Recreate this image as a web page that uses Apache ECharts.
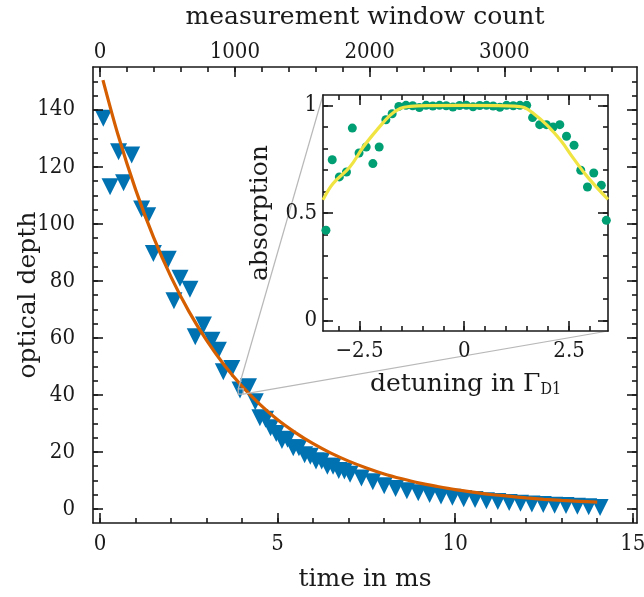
<!DOCTYPE html>
<html>
<head>
<meta charset="utf-8">
<script src="https://cdn.jsdelivr.net/npm/echarts@6/dist/echarts.min.js"></script>
<style>html,body{margin:0;padding:0;background:#fff}#chart{width:644px;height:597px}</style>
</head>
<body>
<div id="chart"></div>
<script>
// ---- main plot data (time in ms vs optical depth) ----
const timeMs = [0.09,0.28,0.52,0.66,0.89,1.17,1.34,1.50,1.92,2.08,2.25,2.53,2.68,2.91,3.15,3.33,3.47,3.71,3.94,4.18,4.37,
  4.50,4.66,4.80,4.96,5.12,5.28,5.44,5.60,5.76,5.92,6.08,6.24,6.40,6.56,6.72,6.88,7.04,7.36,7.68,
  8.00,8.32,8.64,8.96,9.28,9.60,9.92,10.24,10.56,10.88,11.20,11.52,11.84,12.16,12.48,12.80,13.12,13.44,13.76,14.08];
const opticalDepth = [137.0,113.0,125.3,114.4,124.1,105.2,102.8,89.6,87.6,73.0,80.9,77.1,60.4,64.5,59.2,55.7,48.1,49.3,41.7,42.9,37.6,
  32.0,31.5,28.5,26.5,24.0,24.5,21.5,21.5,19.0,18.5,16.8,16.8,15.0,15.0,13.5,13.3,12.2,10.9,9.6,
  8.2,7.2,6.4,5.7,5.1,4.6,4.1,3.6,3.3,2.9,2.6,2.3,2.0,1.8,1.6,1.3,1.2,1.0,0.8,0.5];
const fitTimeMs = [0.08,0.5,1,1.5,2,2.5,3,3.5,4,4.5,5,5.5,6,6.5,7,7.5,8,8.5,9,9.5,10,10.5,11,11.5,12,12.5,13,13.5,14];
const fitOpticalDepth = [150.4,131.4,112.0,95.4,81.3,69.3,59.1,50.4,43.0,36.7,31.3,26.8,22.9,19.6,16.8,14.4,12.3,10.6,9.1,7.9,6.8,5.9,5.1,4.5,3.9,3.4,3.0,2.7,2.4];
const timeTicks = [0,5,10,15];
const timeMinorTicks = [0,1,2,3,4,5,6,7,8,9,10,11,12,13,14,15];
const countTicks = [0,1000,2000,3000];
const countMinorTicks = [0,200,400,600,800,1000,1200,1400,1600,1800,2000,2200,2400,2600,2800,3000,3200,3400,3600,3800];
const odTicks = [0,20,40,60,80,100,120,140];
const odMinorTicks = [0,5,10,15,20,25,30,35,40,45,50,55,60,65,70,75,80,85,90,95,100,105,110,115,120,125,130,135,140,145,150];
const zoomRegionTime = [3.89,4.03];
const zoomRegionOD = [40.3,42.1];

// ---- inset data (detuning vs absorption) ----
const detuning = [-3.30,-3.15,-2.98,-2.81,-2.67,-2.51,-2.34,-2.18,-2.03,-1.87,-1.72,-1.56,-1.39,-1.23,-1.07,-0.91,-0.75,-0.59,-0.43,-0.27,-0.11,0.05,0.21,0.37,0.53,0.69,0.85,1.01,1.17,1.33,1.49,1.63,1.80,1.96,2.12,2.28,2.44,2.62,2.78,2.94,3.09,3.27,3.39];
const absorption = [0.419,0.747,0.667,0.690,0.894,0.778,0.806,0.729,0.806,0.933,0.961,0.995,1.0,0.998,0.99,1.0,0.997,1.0,0.998,0.992,0.999,1.0,0.993,0.999,1.0,0.997,0.991,1.0,0.998,1.0,1.0,0.943,0.910,0.910,0.899,0.910,0.856,0.814,0.698,0.620,0.685,0.628,0.465];
const fitDetuning = [-3.37,-3.13,-2.73,-2.41,-2.09,-1.77,-1.53,-1.29,-0.8,0,0.8,1.2,1.43,1.66,1.98,2.30,2.61,2.94,3.43];
const fitAbsorption = [0.56,0.636,0.713,0.806,0.884,0.953,0.985,0.995,0.999,1.0,0.999,0.996,0.99,0.961,0.907,0.837,0.752,0.667,0.562];
const detTicks = [-2.5,0,2.5];
const detMinorTicks = [-3,-2.5,-2,-1.5,-1,-0.5,0,0.5,1,1.5,2,2.5,3];
const absTicks = [0,0.5,1];
const absMinorTicks = [0,0.1,0.2,0.3,0.4,0.5,0.6,0.7,0.8,0.9,1.0];

const TICKFONT = "'DejaVu Serif Condensed','DejaVu Serif',serif";
const NAMEFONT = "'DejaVu Serif',serif";
const INK = '#1a1a1a';
const LW = 1.6;

function ax(o) {
  const major = o.major !== false;
  return {
    type: 'value', gridIndex: o.grid, position: o.pos, min: o.min, max: o.max,
    axisLine: { show: major, onZero: false, lineStyle: { color: INK, width: LW } },
    axisTick: { show: true, inside: true, length: major ? 10 : 5, customValues: o.ticks, lineStyle: { color: INK, width: LW } },
    axisLabel: o.labels ? { show: true, customValues: o.ticks, margin: o.margin, fontFamily: TICKFONT, fontSize: 22, color: INK, formatter: o.fmt || (v => String(v)) } : { show: false },
    splitLine: { show: false },
    name: o.name || '', nameLocation: 'middle', nameGap: o.nameGap || 0, nameMoveOverlap: false,
    nameTextStyle: Object.assign({ fontFamily: NAMEFONT, fontSize: 25, color: INK }, o.nameStyle || {}),
    z: 5
  };
}
const fmtMinus = v => String(v).replace('-', '\u2212');

const main = { left: 93, top: 67, right: 7, bottom: 74 };
const inset = { left: 323, top: 95, width: 285, height: 236 };
const xMin = -0.2, xMax = 15.12, cMin = -53, cMax = 3985, yMin = -4.9, yMax = 155;
const dMin = -3.37, dMax = 3.43, aMin = -0.05, aMax = 1.048;

const chart = echarts.init(document.getElementById('chart'), null, { renderer: 'canvas' });
chart.setOption({
  animation: false,
  backgroundColor: '#fff',
  grid: [
    Object.assign({ show: false, containLabel: false, outerBoundsMode: 'none' }, main),
    Object.assign({ show: true, backgroundColor: '#fff', borderWidth: 0, containLabel: false, outerBoundsMode: 'none' }, inset)
  ],
  xAxis: [
    ax({ grid: 0, pos: 'bottom', min: xMin, max: xMax, ticks: timeTicks, labels: true, margin: 10, name: 'time in ms', nameGap: 44 }),
    ax({ grid: 0, pos: 'bottom', min: xMin, max: xMax, ticks: timeMinorTicks, major: false }),
    ax({ grid: 0, pos: 'top', min: cMin, max: cMax, ticks: countTicks, labels: true, margin: 4, name: 'measurement window count', nameGap: 37 }),
    ax({ grid: 0, pos: 'top', min: cMin, max: cMax, ticks: countMinorTicks, major: false }),
    ax({ grid: 1, pos: 'bottom', min: dMin, max: dMax, ticks: detTicks, labels: true, margin: 9, fmt: fmtMinus,
         name: 'detuning in \u0393{sub|D1}', nameGap: 40,
         nameStyle: { rich: { sub: { fontFamily: TICKFONT, fontSize: 16, color: INK, padding: [11, 0, 0, 0], verticalAlign: 'top' } } } }),
    ax({ grid: 1, pos: 'bottom', min: dMin, max: dMax, ticks: detMinorTicks, major: false }),
    ax({ grid: 1, pos: 'top', min: dMin, max: dMax, ticks: detTicks }),
    ax({ grid: 1, pos: 'top', min: dMin, max: dMax, ticks: detMinorTicks, major: false })
  ],
  yAxis: [
    ax({ grid: 0, pos: 'left', min: yMin, max: yMax, ticks: odTicks, labels: true, margin: 18, name: 'optical depth', nameGap: 52 }),
    ax({ grid: 0, pos: 'left', min: yMin, max: yMax, ticks: odMinorTicks, major: false }),
    ax({ grid: 0, pos: 'right', min: yMin, max: yMax, ticks: odTicks }),
    ax({ grid: 0, pos: 'right', min: yMin, max: yMax, ticks: odMinorTicks, major: false }),
    ax({ grid: 1, pos: 'left', min: aMin, max: aMax, ticks: absTicks, labels: true, margin: 6, name: 'absorption', nameGap: 50 }),
    ax({ grid: 1, pos: 'left', min: aMin, max: aMax, ticks: absMinorTicks, major: false }),
    ax({ grid: 1, pos: 'right', min: aMin, max: aMax, ticks: absTicks }),
    ax({ grid: 1, pos: 'right', min: aMin, max: aMax, ticks: absMinorTicks, major: false })
  ],
  series: [
    { type: 'scatter', xAxisIndex: 0, yAxisIndex: 0, symbol: 'triangle', symbolRotate: 180, symbolSize: 17,
      itemStyle: { color: '#0072B2', opacity: 1 }, data: timeMs.map((t, i) => [t, opticalDepth[i]]), z: 2 },
    { type: 'line', xAxisIndex: 0, yAxisIndex: 0, showSymbol: false, smooth: 0.3,
      lineStyle: { color: '#D55E00', width: 3.2 }, data: fitTimeMs.map((t, i) => [t, fitOpticalDepth[i]]), z: 3 },
    { type: 'scatter', xAxisIndex: 4, yAxisIndex: 4, symbol: 'circle', symbolSize: 9, clip: true,
      itemStyle: { color: '#009E73', opacity: 1 }, data: detuning.map((d, i) => [d, absorption[i]]), z: 6 },
    { type: 'line', xAxisIndex: 4, yAxisIndex: 4, showSymbol: false, smooth: 0.4, clip: true,
      lineStyle: { color: '#F0E442', width: 3.2 }, data: fitDetuning.map((d, i) => [d, fitAbsorption[i]]), z: 7 }
  ]
});

// zoom indicator lines from a data region of the main plot to the inset corners
const pUL = chart.convertToPixel({ xAxisIndex: 0, yAxisIndex: 0 }, [zoomRegionTime[0], zoomRegionOD[1]]);
const pLR = chart.convertToPixel({ xAxisIndex: 0, yAxisIndex: 0 }, [zoomRegionTime[1], zoomRegionOD[0]]);
const iUL = chart.convertToPixel({ xAxisIndex: 4, yAxisIndex: 4 }, [dMin, aMax]);
const iLR = chart.convertToPixel({ xAxisIndex: 4, yAxisIndex: 4 }, [dMax, aMin]);
const gray = { stroke: '#b8b8b8', lineWidth: 1.2, fill: null };
chart.setOption({
  graphic: [
    { type: 'rect', shape: { x: pUL[0], y: pUL[1], width: pLR[0] - pUL[0], height: pLR[1] - pUL[1] }, style: gray, z: 4 },
    { type: 'line', shape: { x1: pUL[0], y1: pUL[1], x2: iUL[0], y2: iUL[1] }, style: gray, z: 4 },
    { type: 'line', shape: { x1: pLR[0], y1: pLR[1], x2: iLR[0], y2: iLR[1] }, style: gray, z: 4 }
  ]
});
</script>
</body>
</html>
